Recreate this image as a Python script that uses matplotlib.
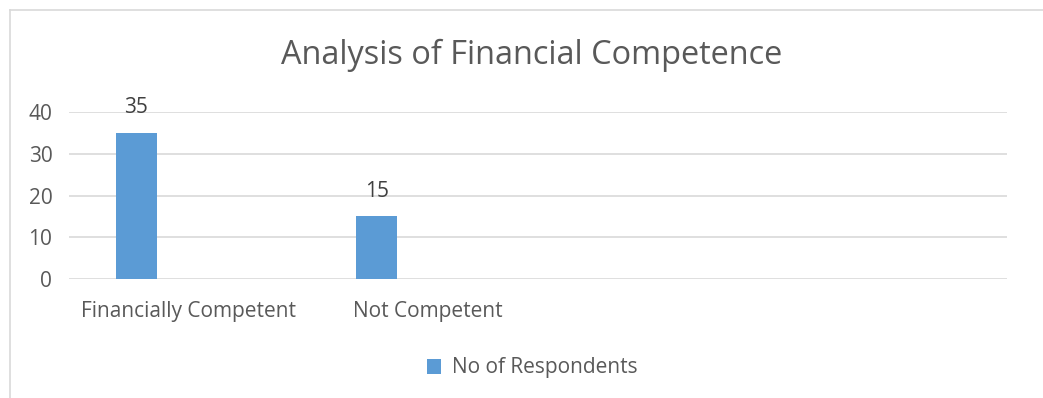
import matplotlib
matplotlib.use("Agg")
import matplotlib.pyplot as plt
from matplotlib.lines import Line2D
from matplotlib.patches import Patch

categories = ["Financially Competent", "Not Competent"]
respondents = [35, 15]
series_name = "No of Respondents"
y_ticks = [0, 10, 20, 30, 40]

BAR_COLOR = "#5B9BD5"
TEXT_COLOR = "#595959"
GRID_COLOR = "#D9D9D9"
FONT = "Open Sans"

W, H = 1043, 398
fig = plt.figure(figsize=(W / 100, H / 100), dpi=100)

# plot area in pixel coordinates
left, right, top, bottom = 69, 1007, 112, 279
ax = fig.add_axes([left / W, 1 - bottom / H, (right - left) / W, (bottom - top) / H])

x = list(range(len(categories)))
bar_offset = -0.215
bar_width = 0.172
bars = ax.bar([i + bar_offset for i in x], respondents, width=bar_width,
              color=BAR_COLOR, zorder=3, label=series_name)

for rect, v in zip(bars, respondents):
    ax.annotate(f"{v}", (rect.get_x() + rect.get_width() / 2, v),
                xytext=(0, 18), textcoords="offset points",
                ha="center", va="center", fontsize=15, color="#404040",
                family=FONT)

ax.set_xlim(-0.496, 3.41)
ax.set_ylim(0, 40)
ax.set_yticks(y_ticks)
ax.set_xticks(x)
ax.set_xticklabels(categories)
ax.tick_params(axis="both", length=0, colors=TEXT_COLOR, labelsize=15)
ax.tick_params(axis="y", pad=12)
ax.tick_params(axis="x", pad=16)
for lab in ax.get_xticklabels() + ax.get_yticklabels():
    lab.set_family(FONT)
    lab.set_color(TEXT_COLOR)

ax.grid(axis="y", color=GRID_COLOR, linewidth=1.2, zorder=0)
for s in ax.spines.values():
    s.set_visible(False)

fig.text(532 / W, 1 - 55 / H, "Analysis of Financial Competence", ha="center",
         va="center", fontsize=23.4, color=TEXT_COLOR, family=FONT)

handle = Patch(facecolor=BAR_COLOR, edgecolor="none")
fig.legend([handle], [series_name], loc="center", bbox_to_anchor=(532 / W, 1 - 368 / H),
           frameon=False, prop={"family": FONT, "size": 15}, labelcolor=TEXT_COLOR,
           handlelength=0.7, handleheight=0.7, handletextpad=0.5)

# chart border
fig.add_artist(Line2D([10 / W, 1], [1 - 10 / H, 1 - 10 / H], color=GRID_COLOR, lw=1.2,
                      transform=fig.transFigure))
fig.add_artist(Line2D([10 / W, 10 / W], [0, 1 - 10 / H], color=GRID_COLOR, lw=1.2,
                      transform=fig.transFigure))

fig.savefig("out.png", dpi=100, facecolor="white")
